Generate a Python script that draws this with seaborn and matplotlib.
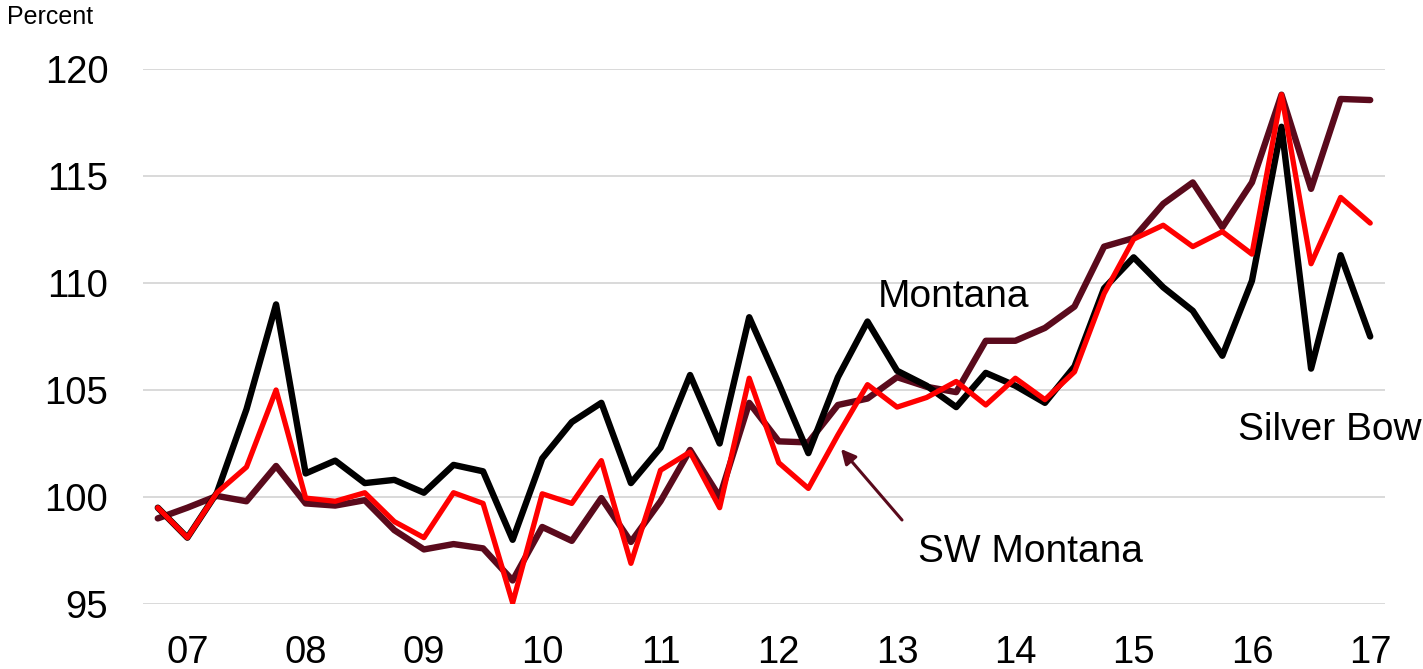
import matplotlib
matplotlib.use("Agg")
import matplotlib.pyplot as plt
import numpy as np
import pandas as pd
import seaborn as sns

# ---------------- data (quarterly index, percent) ----------------
quarters = list(range(42))
year_labels = ["07", "08", "09", "10", "11", "12", "13", "14", "15", "16", "17"]
y_ticks = [95, 100, 105, 110, 115, 120]

montana = [99.5, 98.1, 100.2, 104.1, 109.0, 101.1, 101.7, 100.65, 100.8, 100.2,
           101.5, 101.2, 98.0, 101.8, 103.5, 104.4, 100.65, 102.3, 105.7, 102.5,
           108.4, 105.3, 102.05, 105.6, 108.2, 105.9, 105.2, 104.2, 105.8, 105.2,
           104.4, 106.1, 109.75, 111.2, 109.8, 108.7, 106.6, 110.1, 117.3, 106.0,
           111.3, 107.5]
sw_montana = [99.5, 98.1, 100.2, 101.4, 105.0, 99.95, 99.8, 100.2, 98.85, 98.1,
              100.2, 99.7, 95.05, 100.15, 99.7, 101.7, 96.9, 101.25, 102.1, 99.5,
              105.55, 101.6, 100.4, 102.9, 105.25, 104.2, 104.65, 105.4, 104.3, 105.55,
              104.55, 105.85, 109.5, 112.05, 112.7, 111.7, 112.4, 111.35, 118.8, 110.9,
              114.0, 112.8]
silver_bow = [99.0, 99.5, 100.05, 99.8, 101.45, 99.7, 99.6, 99.85, 98.45, 97.55,
              97.8, 97.6, 96.1, 98.6, 97.95, 99.95, 97.9, 99.8, 102.2, 100.0,
              104.4, 102.6, 102.55, 104.3, 104.6, 105.6, 105.15, 104.9, 107.3, 107.3,
              107.9, 108.9, 111.7, 112.1, 113.7, 114.7, 112.6, 114.7, 118.8, 114.4,
              118.6, 118.55]

series_names = ["Silver Bow", "Montana", "SW Montana"]  # drawing order
MAROON = "#5A0A1C"
palette = {"Silver Bow": MAROON, "Montana": "#000000", "SW Montana": "#FF0000"}

df = pd.DataFrame({
    "q": quarters * 3,
    "value": silver_bow + montana + sw_montana,
    "series": ["Silver Bow"] * 42 + ["Montana"] * 42 + ["SW Montana"] * 42,
})

# ---------------- style ----------------
sns.set_theme(style="white")
plt.rcParams["font.family"] = ["Liberation Sans", "DejaVu Sans"]
plt.rcParams["text.color"] = "black"

W, H = 1423, 669
fig = plt.figure(figsize=(W / 100, H / 100), dpi=100)
L, R, T, B = 143, 1385, 69, 604
ax = fig.add_axes([L / W, 1 - B / H, (R - L) / W, (B - T) / H])

for name in series_names:
    sub = df[df["series"] == name]
    sns.lineplot(data=sub, x="q", y="value", color=palette[name],
                 linewidth=3.8 if name == "SW Montana" else 4.6,
                 ax=ax, legend=False, solid_joinstyle="round",
                 solid_capstyle="round", zorder=3)

ax.set_xlim(-0.5, 41.5)
ax.set_ylim(95, 120)
ax.set_yticks(y_ticks)
ax.set_yticklabels([str(v) for v in y_ticks])
ax.set_xticks(list(range(1, 42, 4)))
ax.set_xticklabels(year_labels)
ax.set_xlabel("")
ax.set_ylabel("")

ax.grid(axis="y", color="#D9D9D9", linewidth=1.4)
ax.grid(axis="x", visible=False)
ax.set_axisbelow(True)
for s in ax.spines.values():
    s.set_visible(False)
ax.tick_params(axis="both", length=0, labelsize=27.5, colors="black",
               labelcolor="black")
ax.tick_params(axis="y", pad=25)
ax.tick_params(axis="x", pad=22)

# ---------------- annotations ----------------
fig.text(7 / W, 1 - 17 / H, "Percent", fontsize=18, va="center", ha="left",
         color="black")
fig.text(878 / W, 1 - 297 / H, "Montana", fontsize=28, va="center", ha="left",
         color="black")
fig.text(918 / W, 1 - 552 / H, "SW Montana", fontsize=28, va="center", ha="left",
         color="black")
fig.text(1238 / W, 1 - 430 / H, "Silver Bow", fontsize=28, va="center", ha="left",
         color="black")

ax.annotate("", xy=(841 / W, 1 - 449 / H), xytext=(902 / W, 1 - 520 / H),
            xycoords="figure fraction", textcoords="figure fraction",
            arrowprops=dict(arrowstyle="-|>", color=MAROON, lw=2.2,
                            mutation_scale=22, shrinkA=0, shrinkB=0))

fig.savefig("out.png", dpi=100)
